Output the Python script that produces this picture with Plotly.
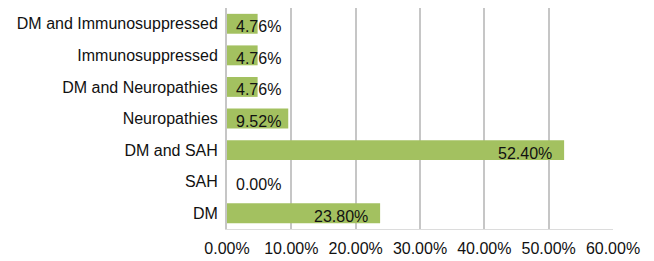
import plotly.graph_objects as go

categories = ["DM", "SAH", "DM and SAH", "Neuropathies", "DM and Neuropathies",
              "Immunosuppressed", "DM and Immunosuppressed"]
values = [23.80, 0.00, 52.40, 9.52, 4.76, 4.76, 4.76]
tick_vals = [0, 10, 20, 30, 40, 50, 60]
tick_text = ["0.00%", "10.00%", "20.00%", "30.00%", "40.00%", "50.00%", "60.00%"]

FONT = "Liberation Sans, Arial, sans-serif"
FS = 16

fig = go.Figure(go.Bar(
    x=values, y=categories, orientation="h",
    marker=dict(color="#a3c160", line=dict(width=0)),
    hoverinfo="skip",
))

annotations = []
for c, v in zip(categories, values):
    if v >= 15:
        annotations.append(dict(x=v, y=c, xref="x", yref="y", text=f"{v:.2f}%",
                                showarrow=False, xanchor="right", xshift=-10, yshift=-3,
                                font=dict(family=FONT, size=FS, color="#111")))
    else:
        annotations.append(dict(x=0, y=c, xref="x", yref="y", text=f"{v:.2f}%",
                                showarrow=False, xanchor="left", xshift=7, yshift=-3,
                                font=dict(family=FONT, size=FS, color="#111")))

# page body has an 8px margin, so the figure is offset by 8px
fig.update_layout(
    width=646, height=253,
    margin=dict(l=219, r=41, t=0, b=32, autoexpand=False),
    paper_bgcolor="white", plot_bgcolor="white",
    bargap=0.37,
    showlegend=False,
    font=dict(family=FONT, size=FS, color="#111"),
    annotations=annotations,
    xaxis=dict(range=[0, 60], tickvals=tick_vals, ticktext=tick_text,
               showgrid=True, gridcolor="#c6c6c6", gridwidth=2,
               zeroline=False, showline=True, linecolor="#dcdcdc", linewidth=1,
               mirror=False, ticks="", fixedrange=True, automargin=False,
               ticklabelstandoff=5,
               tickfont=dict(family=FONT, size=FS, color="#111")),
    yaxis=dict(categoryorder="array", categoryarray=categories,
               showgrid=False, showline=True, linecolor="#c6c6c6", linewidth=2,
               ticks="", ticklabelstandoff=4, fixedrange=True, automargin=False,
               tickfont=dict(family=FONT, size=FS, color="#111")),
)

fig.write_html("out.html")
